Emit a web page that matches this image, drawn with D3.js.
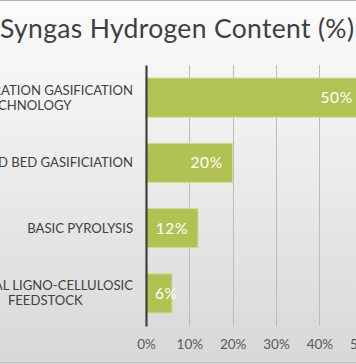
<!DOCTYPE html>
<html><head><meta charset="utf-8">
<script src="https://cdn.jsdelivr.net/npm/d3@7"></script>
<style>html,body{margin:0;padding:0;overflow:hidden;background:#fff}</style>
</head><body>
<script>
const categories = [
  ["NEXT GENERATION GASIFICATION", "TECHNOLOGY"],
  ["FLUIDIZED BED GASIFICIATION"],
  ["BASIC PYROLYSIS"],
  ["TYPICAL LIGNO-CELLULOSIC", "FEEDSTOCK"]
];
const values = [50, 20, 12, 6];
const valueLabels = ["50%", "20%", "12%", "6%"];
const tickValues = [0, 10, 20, 30, 40, 50];
const title = "Syngas Hydrogen Content (%)";

const W = 356, H = 364;
const FONT = "Lato, 'Open Sans', sans-serif";
const svg = d3.select("body").append("svg").attr("width", W).attr("height", H);
const defs = svg.append("defs");
const g = defs.append("linearGradient").attr("id", "bg").attr("x1", 0).attr("y1", 0).attr("x2", 0).attr("y2", 1);
g.append("stop").attr("offset", "0%").attr("stop-color", "#fcfcfc");
g.append("stop").attr("offset", "100%").attr("stop-color", "#d8d8d8");
svg.append("rect").attr("width", W).attr("height", H).attr("fill", "url(#bg)");
svg.append("line").attr("x1", 0).attr("x2", W).attr("y1", 0.5).attr("y2", 0.5).attr("stroke", "#b4b4b4");
svg.append("line").attr("x1", 0).attr("x2", W).attr("y1", 362.5).attr("y2", 362.5).attr("stroke", "#c4c4c4");

const x = d3.scaleLinear().domain([0, 50]).range([146, 362.7]);
const keys = categories.map((c, i) => i);
const y = d3.scaleBand().domain(keys).range([65, 326]).paddingInner(0.4).paddingOuter(0.2);

svg.append("text").attr("x", 0).attr("y", 38)
  .attr("font-family", FONT).attr("font-size", 26.5)
  .attr("textLength", 354).attr("lengthAdjust", "spacing")
  .attr("fill", "#404040").text(title);

// grid
svg.append("g").selectAll("line").data(tickValues.slice(1)).join("line")
  .attr("x1", d => Math.round(x(d)) + 0.5).attr("x2", d => Math.round(x(d)) + 0.5)
  .attr("y1", 65).attr("y2", 326).attr("stroke", "#bdbdbd").attr("stroke-width", 1);

// bars
svg.append("g").selectAll("rect").data(values).join("rect")
  .attr("x", x(0)).attr("y", (d, i) => y(i))
  .attr("width", d => x(d) - x(0)).attr("height", y.bandwidth())
  .attr("fill", "#afc04a").attr("fill-opacity", 0.95)
  .attr("stroke", "#d3dc9c").attr("stroke-width", 1);

// value labels
const vl = svg.append("g").selectAll("text").data(values).join("text")
  .attr("y", (d, i) => y(i) + y.bandwidth() / 2 + 5.5)
  .attr("text-anchor", "end").attr("fill", "#ffffff")
  .attr("font-family", FONT).attr("font-size", 15.5).attr("letter-spacing", 0.6)
  .text((d, i) => valueLabels[i]);
vl.attr("x", function(d) {
  const w = this.getComputedTextLength();
  return Math.max(x(d) - 10, x(0) + 9 + w);
});

// y axis
const yAxis = d3.axisLeft(y).tickSize(0).tickFormat("");
const ya = svg.append("g").attr("transform", `translate(${x(0)},0)`).call(yAxis);
ya.select(".domain").attr("stroke", "#404040").attr("stroke-width", 2.2);

// category labels
const catG = svg.append("g");
categories.forEach((lines, i) => {
  const cy = y(i) + y.bandwidth() / 2;
  const lh = 15;
  const t = catG.append("text").attr("font-family", FONT)
    .attr("font-size", 13.1).attr("fill", "#404040");
  const first = t.append("tspan").attr("x", 0).attr("y", 0).text(lines[0]);
  const w0 = first.node().getComputedTextLength();
  const right = 133;
  const cx = right - w0 / 2;
  t.selectAll("tspan").remove();
  lines.forEach((ln, k) => {
    t.append("tspan").attr("x", cx).attr("text-anchor", "middle")
      .attr("y", cy + (k - (lines.length - 1) / 2) * lh + 4.5).text(ln);
  });
});

// x axis
const xAxis = d3.axisBottom(x).tickValues(tickValues).tickSize(0).tickFormat(d => d + "%");
const xa = svg.append("g").attr("transform", "translate(0,336)").call(xAxis);
xa.select(".domain").remove();
xa.selectAll("text").attr("font-family", FONT)
  .attr("font-size", 13.5).attr("fill", "#595959");
</script>
</body></html>
